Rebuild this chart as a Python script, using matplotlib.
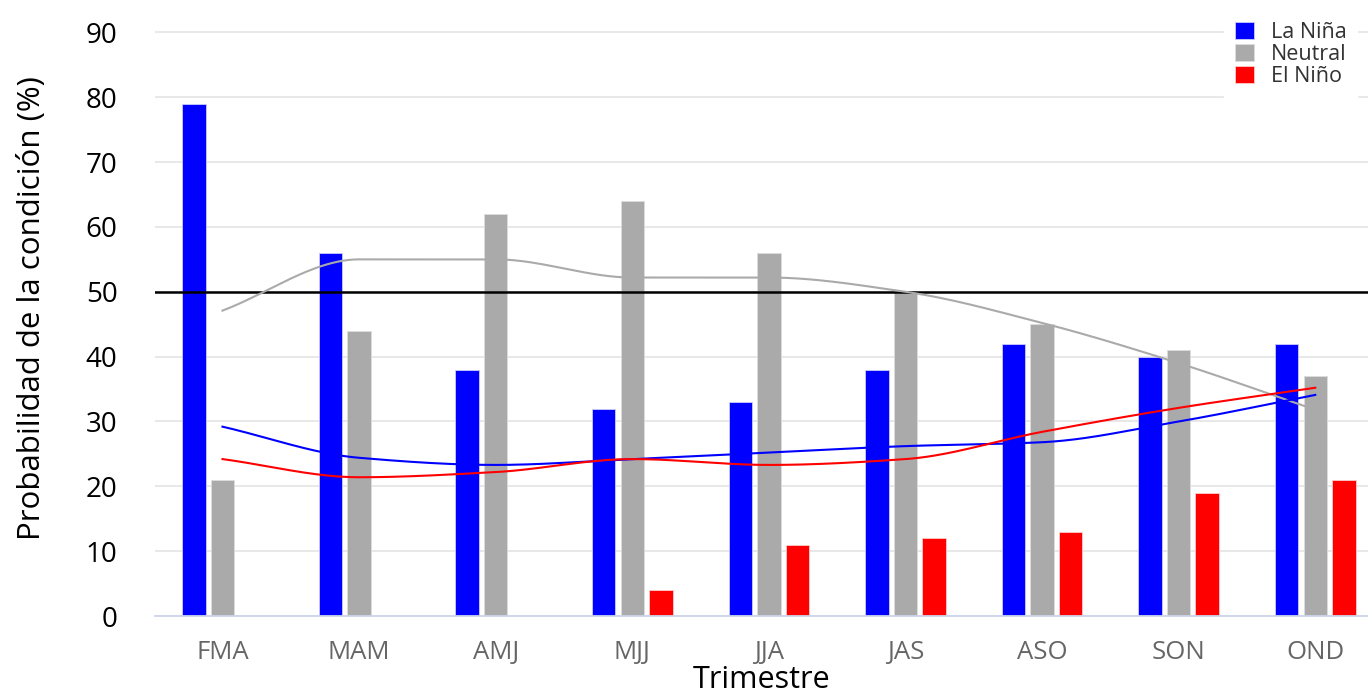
import matplotlib.pyplot as plt
import numpy as np

plt.rcParams['font.family'] = ['Open Sans', 'DejaVu Sans']

# 数据
trimestres = ["FMA", "MAM", "AMJ", "MJJ", "JJA", "JAS", "ASO", "SON", "OND"]
la_nina = [79, 56, 38, 32, 33, 38, 42, 40, 42]
neutral = [21, 44, 62, 64, 56, 50, 45, 41, 37]
el_nino = [0, 0, 0, 4, 11, 12, 13, 19, 21]

# 趋势线 (每个三月期的值)
linea_nina = [29.2, 24.4, 23.3, 24.2, 25.2, 26.2, 26.8, 30.0, 34.1]
linea_neutral = [47.1, 55.0, 55.0, 52.2, 52.2, 50.0, 45.2, 39.0, 31.8]
linea_nino = [24.2, 21.4, 22.2, 24.2, 23.3, 24.2, 28.4, 32.1, 35.2]
umbral = 50


def pchip(x, y, n=400):
    # 单调三次插值, 只用于把曲线画平滑
    x = np.asarray(x, float)
    y = np.asarray(y, float)
    h = np.diff(x)
    d = np.diff(y) / h
    m = np.zeros_like(y)
    for k in range(1, len(y) - 1):
        if d[k - 1] * d[k] > 0:
            w1 = 2 * h[k] + h[k - 1]
            w2 = h[k] + 2 * h[k - 1]
            m[k] = (w1 + w2) / (w1 / d[k - 1] + w2 / d[k])
    m[0] = d[0]
    m[-1] = d[-1]
    xs = np.linspace(x[0], x[-1], n)
    idx = np.clip(np.searchsorted(x, xs) - 1, 0, len(h) - 1)
    t = (xs - x[idx]) / h[idx]
    h00 = 2 * t**3 - 3 * t**2 + 1
    h10 = t**3 - 2 * t**2 + t
    h01 = -2 * t**3 + 3 * t**2
    h11 = t**3 - t**2
    ys = (h00 * y[idx] + h10 * h[idx] * m[idx] + h01 * y[idx + 1]
          + h11 * h[idx] * m[idx + 1])
    return xs, ys


blue = '#0000ff'
gray = '#aaaaaa'
red = '#ff0000'

fig = plt.figure(figsize=(13.68, 6.97), dpi=100)
ax = fig.add_axes([0.1133, 0.1162, 0.8867, 0.8838])

x = np.arange(len(trimestres))
bw = 0.172
off = 0.209
ax.bar(x - off, la_nina, width=bw, color=blue, edgecolor='#ccccff', linewidth=0.6,
       label='La Niña', zorder=2)
ax.bar(x, neutral, width=bw, color=gray, edgecolor='#dddddd', linewidth=0.6,
       label='Neutral', zorder=2)
ax.bar(x + off, el_nino, width=bw, color=red, edgecolor='#ffcccc', linewidth=0.6,
       label='El Niño', zorder=2)

ax.axhline(umbral, color='black', lw=1.8, zorder=3)

for vals, c in [(linea_neutral, gray), (linea_nina, blue), (linea_nino, red)]:
    xs, ys = pchip(x, vals)
    ax.plot(xs, ys, color=c, lw=1.5, zorder=4)

ax.set_xlim(-0.494, 8.386)
ax.set_ylim(0, 95)
ax.set_yticks(range(0, 91, 10))
ax.set_xticks(x)
ax.set_xticklabels(trimestres, color='#666666', fontsize=18.5)
ax.tick_params(axis='y', labelsize=20, length=0, pad=27, colors='black')
ax.tick_params(axis='x', length=0, pad=17)
ax.grid(axis='y', color='#e6e6e6', lw=1.3, zorder=0)
for s in ['top', 'right', 'left']:
    ax.spines[s].set_visible(False)
ax.spines['bottom'].set_color('#ccd6eb')
ax.spines['bottom'].set_linewidth(1.3)

ax.set_ylabel('Probabilidad de la condición (%)', fontsize=22.5, labelpad=28)
ax.set_xlabel('Trimestre', fontsize=22, labelpad=0)

leg = ax.legend(loc='upper right', bbox_to_anchor=(1.0, 1.0), frameon=True,
                fontsize=15.5, handlelength=0.85, handleheight=0.85,
                handletextpad=0.8, labelspacing=0.05, borderpad=0.5,
                edgecolor='white', framealpha=1, fancybox=False)
for t in leg.get_texts():
    t.set_color('#333333')

plt.savefig('out.png', dpi=100)
